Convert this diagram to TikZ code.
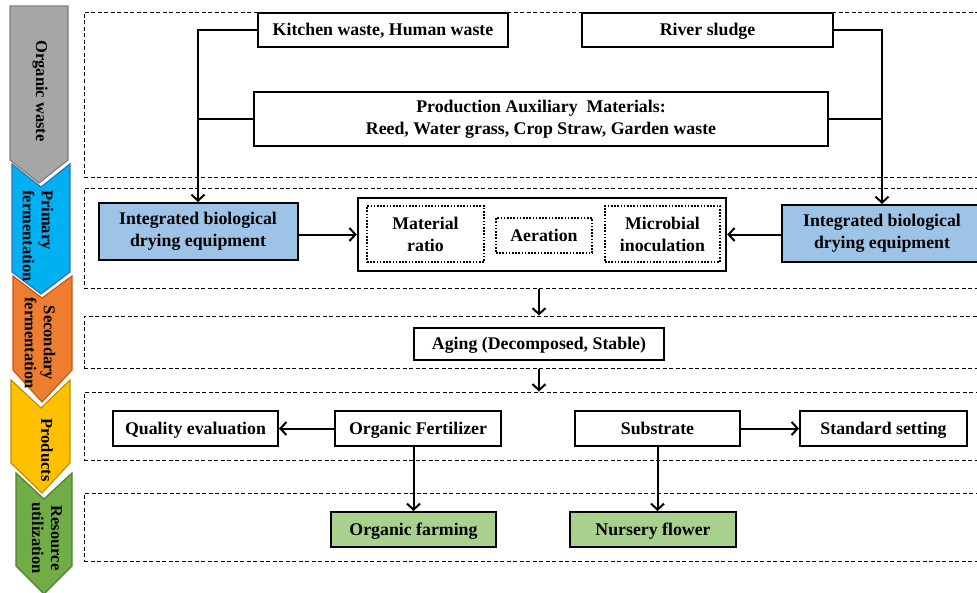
\documentclass[tikz,border=0pt]{standalone}
\usepackage{fontspec}
\setmainfont{Liberation Serif}
\usetikzlibrary{arrows.meta}
\definecolor{cgray}{HTML}{A6A6A6}
\definecolor{cgrayd}{HTML}{7F7F7F}
\definecolor{cblue}{HTML}{00B0F0}
\definecolor{cblued}{HTML}{2E75B6}
\definecolor{corange}{HTML}{ED7D31}
\definecolor{coranged}{HTML}{C55A11}
\definecolor{cyellow}{HTML}{FFC000}
\definecolor{cyellowd}{HTML}{BF9000}
\definecolor{cgreen}{HTML}{70AD47}
\definecolor{cgreend}{HTML}{507E32}
\definecolor{lblue}{HTML}{9DC3E6}
\definecolor{lgreen}{HTML}{A9D18E}
\tikzset{
  txt/.style={font=\fontsize{17.8}{22}\selectfont\bfseries, align=center},
  box/.style={txt, draw=black, line width=2pt, inner sep=0pt},
  sl/.style={text height=13.5pt, text depth=2pt},
  dbox/.style={draw=black, line width=1pt, dash pattern=on 4pt off 2.5pt, inner sep=0pt},
  dotbox/.style={txt, draw=black, line width=2pt, dash pattern=on 1.6pt off 1.6pt, inner sep=0pt},
  arr/.style={line width=2pt, -{Straight Barb[length=6pt,width=13pt]}},
  ln/.style={line width=2pt},
  chev/.style={line width=1.2pt},
  chevtxt/.style={font=\fontsize{16.5}{19}\selectfont\bfseries, rotate=-90}
}
\begin{document}
\begin{tikzpicture}[x=1pt,y=-1pt]
\useasboundingbox (0,0) rectangle (977,592);
\fill[white] (0,0) rectangle (977,592);

% chevrons
\filldraw[chev, fill=cgray, draw=cgrayd] (10,6) -- (68,6) -- (68,160) -- (39,183) -- (10,160) -- cycle;
\filldraw[chev, fill=cblue, draw=cblued] (12,164) -- (41,187) -- (70,164) -- (70,272) -- (41,294) -- (12,272) -- cycle;
\filldraw[chev, fill=corange, draw=coranged] (13,276) -- (42,298) -- (72,276) -- (72,370) -- (42,402) -- (13,370) -- cycle;
\filldraw[chev, fill=cyellow, draw=cyellowd] (11,380) -- (41,408) -- (70,380) -- (70,463) -- (42,493) -- (11,463) -- cycle;
\filldraw[chev, fill=cgreen, draw=cgreend] (16,473) -- (44,499) -- (72,473) -- (72,566) -- (44,594) -- (16,566) -- cycle;

\node[chevtxt] (t1) at (40,91) {Organic waste};
\node[chevtxt, align=left] (t2) at (38,236) {Primary\\fermentation};
\node[chevtxt, align=center] (t3) at (40,343) {Secondary\\fermentation};
\node[chevtxt] (t4) at (47,450) {Products};
\node[chevtxt, align=center] (t5) at (47,538) {Resource\\utilization};

% dashed group boxes
\node[dbox, minimum width=898pt, minimum height=165pt] (g1) at (533,94.5) {};
\node[dbox, minimum width=898pt, minimum height=100pt] (g2) at (533,238) {};
\node[dbox, minimum width=898pt, minimum height=52pt] (g3) at (533,342) {};
\node[dbox, minimum width=898pt, minimum height=68pt] (g4) at (533,426) {};
\node[dbox, minimum width=898pt, minimum height=68pt] (g5) at (533,527) {};

% row 1
\node[box, sl, minimum width=250pt, minimum height=34pt] (kitchen) at (383,30) {Kitchen waste, Human waste};
\node[box, sl, minimum width=251pt, minimum height=34pt] (river) at (707.5,30) {River sludge};
\node[box, minimum width=574pt, minimum height=54pt] (aux) at (541,119) {Production Auxiliary\ \ Materials:\\Reed, Water grass, Crop Straw, Garden waste};

% row 2
\node[box, fill=lblue, minimum width=199pt, minimum height=57pt] (intL) at (198,231.5) {Integrated biological\\drying equipment};
\node[box, fill=lblue, minimum width=200pt, minimum height=57pt] (intR) at (882,233.5) {Integrated biological\\drying equipment};
\node[box, line width=2.4pt, minimum width=368pt, minimum height=73pt] (center) at (542,234.5) {};
\node[dotbox, minimum width=117pt, minimum height=56pt] (mat) at (425.5,234) {Material\\ratio};
\node[dotbox, sl, minimum width=96pt, minimum height=35pt] (aer) at (544,235.5) {Aeration};
\node[dotbox, minimum width=115pt, minimum height=56pt] (mic) at (662.5,234) {Microbial\\inoculation};

% row 3
\node[box, sl, minimum width=250pt, minimum height=32pt] (aging) at (539,344) {Aging (Decomposed, Stable)};

% row 4
\node[box, sl, minimum width=165pt, minimum height=35pt] (qual) at (195.5,428.5) {Quality evaluation};
\node[box, sl, minimum width=166pt, minimum height=35pt] (orgF) at (418,428.5) {Organic Fertilizer};
\node[box, sl, minimum width=165pt, minimum height=35pt] (subs) at (657.5,428.5) {Substrate};
\node[box, sl, minimum width=167pt, minimum height=35pt] (std) at (883.5,428.5) {Standard setting};

% row 5
\node[box, sl, fill=lgreen, minimum width=165pt, minimum height=35pt] (farm) at (413.5,529.5) {Organic farming};
\node[box, sl, fill=lgreen, minimum width=166pt, minimum height=35pt] (nursery) at (653,529.5) {Nursery flower};

% connectors
\draw[arr] (kitchen.west) -| (intL.north);
\draw[ln] (aux.west) -- (aux.west -| intL.north);
\draw[arr] (river.east) -| (intR.north);
\draw[ln] (aux.east) -- (aux.east -| intR.north);
\draw[arr] (intL.east |- center.west) -- (center.west);
\draw[arr] (intR.west |- center.east) -- (center.east);
\draw[arr] (g2.south -| aging.north) -- (g3.north -| aging.north);
\draw[arr] (g3.south -| aging.south) -- (g4.north -| aging.south);
\draw[arr] (orgF.west) -- (qual.east);
\draw[arr] (subs.east) -- (std.west);
\draw[arr] (orgF.south -| farm.north) -- (farm.north);
\draw[arr] (subs.south) -- (subs.south |- nursery.north);
\end{tikzpicture}
\end{document}
